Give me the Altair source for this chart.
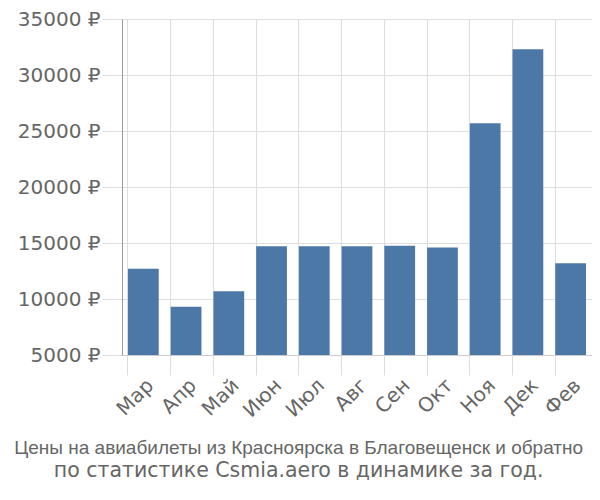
import altair as alt
import pandas as pd

months = ["Мар", "Апр", "Май", "Июн", "Июл", "Авг", "Сен", "Окт", "Ноя", "Дек", "Фев"]
prices = [12700, 9300, 10700, 14700, 14700, 14700, 14750, 14600, 25700, 32300, 13200]
y_ticks = [5000, 10000, 15000, 20000, 25000, 30000, 35000]
title_line1 = "Цены на авиабилеты из Красноярска в Благовещенск и обратно"
title_line2 = "по статистике Csmia.aero в динамике за год."

df = pd.DataFrame({"month": months, "price": prices})

FONT = "DejaVu Sans"
TITLE_FONT = "Liberation Sans"

chart = alt.Chart(df).mark_bar(color="#4c78a8").encode(
    x=alt.X("month:N", sort=months, title=None,
            scale=alt.Scale(paddingInner=0.28, paddingOuter=0.14),
            axis=alt.Axis(labelAngle=-45, labelFontSize=20, labelColor="#666",
                          labelFont=FONT, bandPosition=0, tickSize=20,
                          tickColor="#ddd", grid=True, gridColor="#ddd",
                          domainColor="#ccc", labelPadding=0, labelBaseline="top",
                          labelAlign="right")),
    y=alt.Y("price:Q", title=None,
            scale=alt.Scale(domain=[5000, 35000], clamp=True, nice=False, zero=False),
            axis=alt.Axis(values=y_ticks, labelExpr="datum.value + ' ₽'",
                          labelFontSize=20, labelColor="#666", labelFont=FONT,
                          tickSize=20, tickColor="#ddd", gridColor="#ddd",
                          domainColor="#999", labelPadding=2)),
).properties(
    width=470, height=336,
    title=alt.TitleParams(text=title_line1, subtitle=title_line2, orient="bottom",
                          anchor="middle", frame="bounds", font=TITLE_FONT, fontSize=19,
                          fontWeight="normal", color="#666", subtitleFont=FONT,
                          subtitleFontSize=20.5, subtitleColor="#666", offset=18,
                          subtitlePadding=3, dx=-6),
    autosize=alt.AutoSizeParams(type="none"),
    padding={"left": 114, "top": 11, "right": 0, "bottom": 130},
).configure_view(stroke="#ddd")

chart.save("out.html", embed_options={"renderer": "svg", "actions": False})
